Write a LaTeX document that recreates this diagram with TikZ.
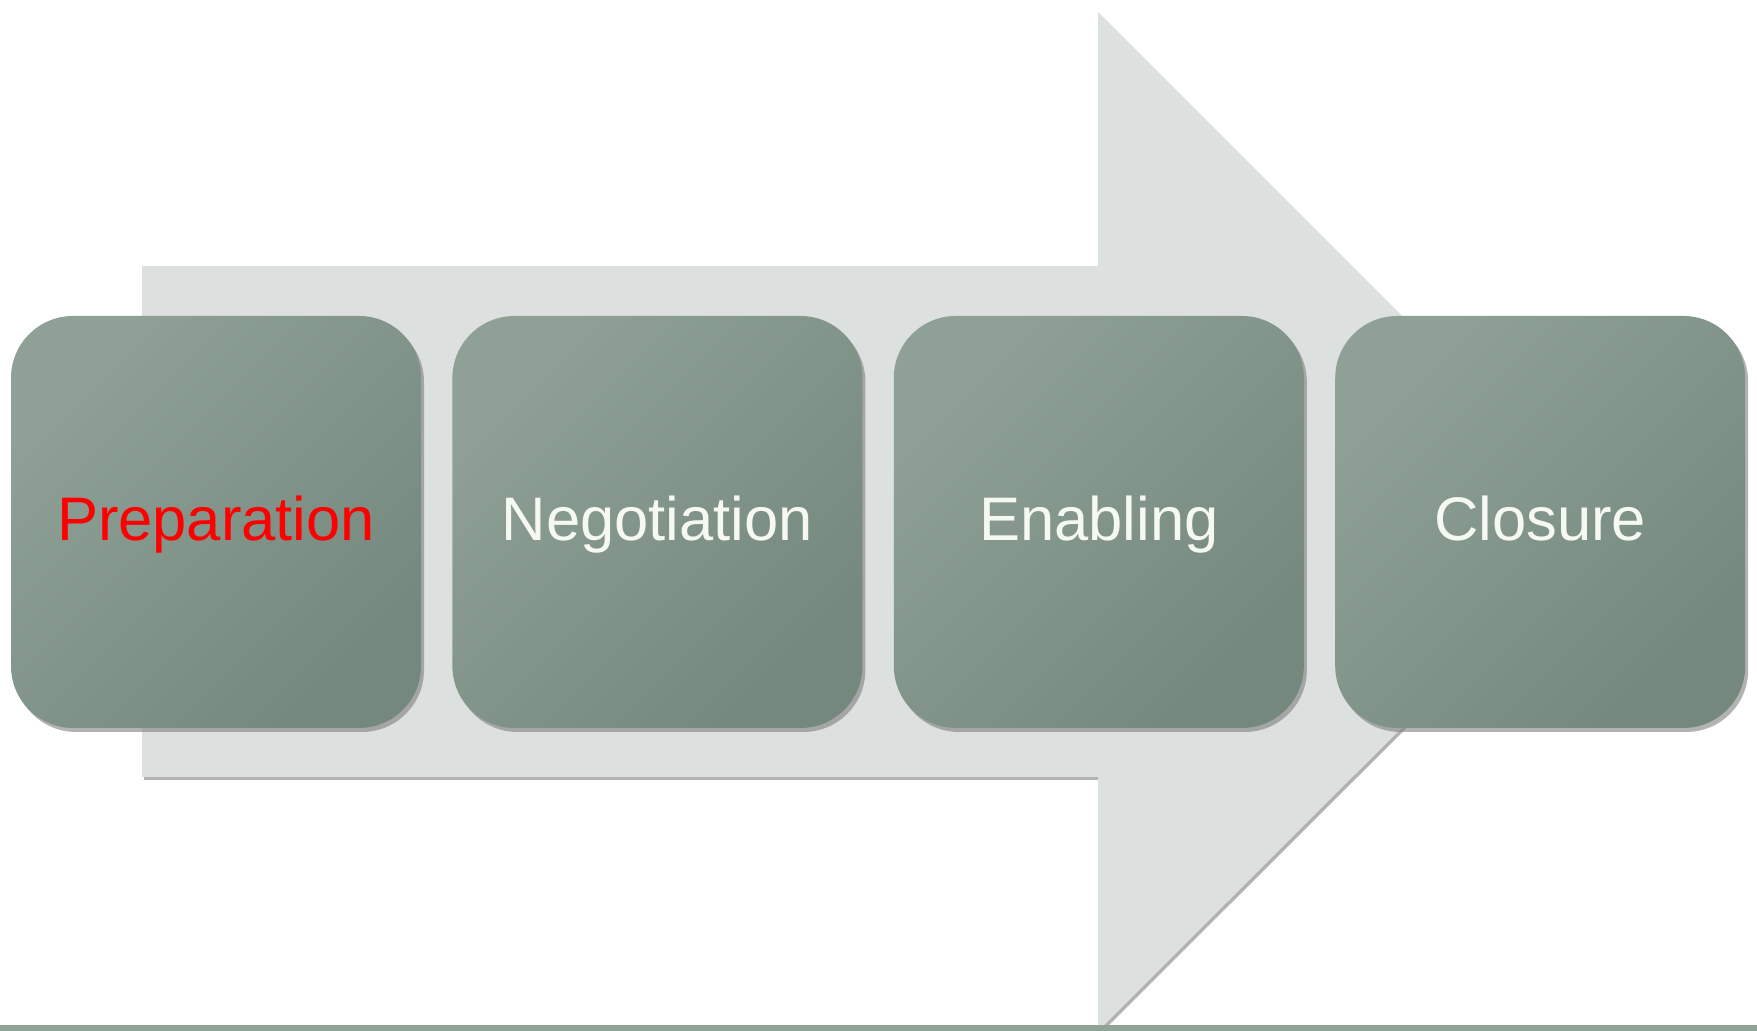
\documentclass[tikz,border=0pt]{standalone}
\usepackage{fontspec}
\setmainfont{Liberation Sans}
\usetikzlibrary{positioning,shadows}
\definecolor{arrowgray}{RGB}{220,224,223}
\definecolor{boxlight}{RGB}{143,161,150}
\definecolor{boxdark}{RGB}{117,136,125}
\definecolor{footgreen}{RGB}{143,163,150}
\definecolor{labelwhite}{RGB}{246,248,242}
\begin{document}
\begin{tikzpicture}[
  stage/.style={rectangle, rounded corners=0.62cm, inner sep=0pt,
    minimum width=4.1cm, minimum height=4.12cm,
    text height=12.6pt, text depth=1.8pt,
    top color=boxlight, bottom color=boxdark, shading angle=45,
    drop shadow={shadow xshift=0.03cm, shadow yshift=-0.04cm, opacity=0.6},
    text=labelwhite, font=\fontsize{17.5}{21}\selectfont}]
\useasboundingbox (0,0) rectangle (17.57,10.31);
% big arrow behind the stages
\coordinate (A) at (1.42,2.54);
\coordinate (B) at (10.98,2.54);
\coordinate (C) at (10.98,0);
\coordinate (T) at (16.08,5.09);
\coordinate (D) at (10.98,10.19);
\coordinate (E) at (10.98,7.65);
\coordinate (F) at (1.42,7.65);
\fill[arrowgray, drop shadow={shadow xshift=0.02cm, shadow yshift=-0.03cm, opacity=0.6}]
  (A) -- (B) -- (C) -- (T) -- (D) -- (E) -- (F) -- cycle;
\fill[footgreen] (0,0) rectangle (17.57,0.06);
% the four stages
\node[stage, text=red] (prep) at (2.16,5.09) {Preparation};
\node[stage, right=0.3cm of prep] (nego) {Negotiation};
\node[stage, right=0.3cm of nego] (enab) {Enabling};
\node[stage, right=0.3cm of enab] (clos) {Closure};
\end{tikzpicture}
\end{document}
